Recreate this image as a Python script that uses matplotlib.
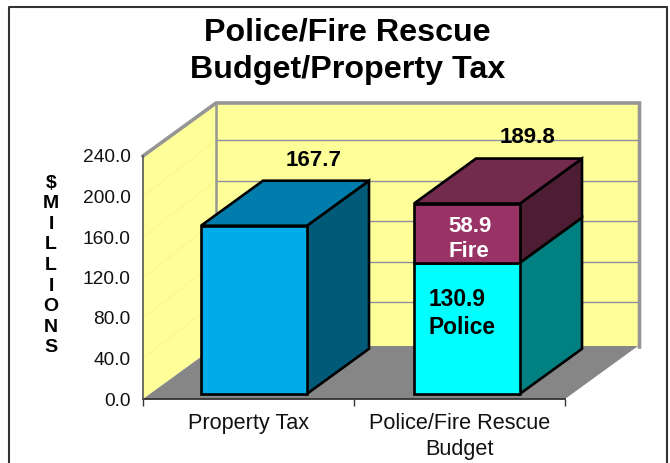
import matplotlib
matplotlib.use('Agg')
import matplotlib.pyplot as plt
from matplotlib.patches import Polygon
from matplotlib.lines import Line2D

plt.rcParams['font.family'] = ['Liberation Sans', 'DejaVu Sans']

# budget figures in $ millions
categories = ['Property Tax', 'Police/Fire Rescue\nBudget']
property_tax = 167.7
police = 130.9
fire = 58.9
total = 189.8
y_ticks = [0, 40, 80, 120, 160, 200, 240]

W, H = 670, 463
fig = plt.figure(figsize=(W / 100, H / 100), dpi=100)

# front plane of the 3d box, everything else is offset from it
ax = fig.add_axes([143 / W, 1 - 399 / H, 422 / W, 243 / H])
ax.set_xlim(0, 2)
ax.set_ylim(0, 240)
ax.patch.set_visible(False)
for s in ['top', 'right']:
    ax.spines[s].set_visible(False)
ax.spines['left'].set_color('#555555')
ax.spines['left'].set_linewidth(1.2)
ax.spines['bottom'].set_color('#333333')
ax.spines['bottom'].set_linewidth(1.3)
ax.spines['left'].set_zorder(6)
ax.spines['bottom'].set_zorder(2)

x_px = 2 / 422     # one pixel in x data units
y_px = 240 / 243   # one pixel in y data units
wall_dx = 73 * x_px
wall_dy = 53 * y_px
grid_nudge = 3.5 * y_px
bar_dx = 62 * x_px
bar_dy = 45 * y_px
bar_width = 106 * x_px
bar_base = 5.2 * y_px
bar_shift = [5.5 * x_px, 7.5 * x_px]
bar_scale = 0.99   # bars sit a little behind the front plane


def poly(pts, **kw):
    p = Polygon(pts, closed=True, clip_on=False, **kw)
    ax.add_patch(p)
    return p


# walls and floor
wall_yellow = '#FFFF99'
wall_grey = '#969696'
poly([(0, 0), (wall_dx, wall_dy), (wall_dx, 240 + wall_dy), (0, 240)],
     facecolor=wall_yellow, edgecolor='none', zorder=1)
poly([(wall_dx, wall_dy), (2 + wall_dx, wall_dy), (2 + wall_dx, 240 + wall_dy), (wall_dx, 240 + wall_dy)],
     facecolor=wall_yellow, edgecolor='none', zorder=1)
poly([(0, 0), (wall_dx, wall_dy), (2 + wall_dx, wall_dy), (2, 0)],
     facecolor='#868686', edgecolor='none', zorder=1.5)

for t in y_ticks[1:-1]:
    gy = t + wall_dy + grid_nudge
    ax.plot([wall_dx, 2 + wall_dx], [gy, gy], color='#8E8E9E', lw=1, zorder=1.2, clip_on=False)
    ax.plot([0, wall_dx], [t, gy], color='#F8F890', lw=0.8, zorder=1.2, clip_on=False)

# grey outline along the back wall
ax.plot([0, wall_dx, 2 + wall_dx + 1.5 * x_px, 2 + wall_dx + 1.5 * x_px],
        [240, 240 + wall_dy, 240 + wall_dy, wall_dy - 1 * y_px],
        color=wall_grey, lw=2.6, zorder=1.3, clip_on=False, solid_joinstyle='miter')
ax.plot([wall_dx, wall_dx], [wall_dy, 240 + wall_dy], color=wall_grey, lw=1.8, zorder=1.3, clip_on=False)


def box(cat, low, high, front, top, side, draw_top=True):
    x0 = cat + 0.5 - bar_width / 2 + bar_shift[cat]
    x1 = x0 + bar_width
    y0 = bar_base + low * bar_scale
    y1 = bar_base + high * bar_scale
    style = dict(edgecolor='black', linewidth=1.9, joinstyle='miter', zorder=3)
    poly([(x1, y0), (x1 + bar_dx, y0 + bar_dy), (x1 + bar_dx, y1 + bar_dy), (x1, y1)], facecolor=side, **style)
    poly([(x0, y0), (x1, y0), (x1, y1), (x0, y1)], facecolor=front, **style)
    if draw_top:
        poly([(x0, y1), (x1, y1), (x1 + bar_dx, y1 + bar_dy), (x0 + bar_dx, y1 + bar_dy)], facecolor=top, **style)
    return x0


x_tax = box(0, 0, property_tax, '#00ABE9', '#007DAC', '#005A78')
x_pol = box(1, 0, police, '#00FFFF', '#00B0B0', '#008080', draw_top=False)
box(1, police, police + fire, '#993366', '#732A4D', '#4D1E33')

# value labels
bold = dict(fontweight='bold', zorder=5, clip_on=False)
ax.text(x_tax + bar_dx + 50.5 * x_px, bar_base + property_tax + bar_dy + 8, f'{property_tax:.1f}',
        ha='center', va='bottom', fontsize=16, color='black', **bold)
ax.text(x_pol + bar_dx + 51.5 * x_px, bar_base + total + bar_dy + 9, f'{total:.1f}',
        ha='center', va='bottom', fontsize=16, color='black', **bold)
ax.text(x_pol + 15 * x_px, bar_base + police * 0.80, f'{police:.1f}\nPolice',
        ha='left', va='top', fontsize=16.4, color='black', linespacing=1.28, **bold)
ax.text(x_pol + 34.5 * x_px, bar_base + police + fire * 0.37, f'{fire:.1f}\nFire',
        ha='left', va='center', fontsize=16, color='white', linespacing=1.25, **bold)

# axis ticks and labels
ax.set_yticks(y_ticks)
ax.set_yticklabels([f'{t:.1f}' for t in y_ticks], fontsize=13.8, color='#111111')
ax.tick_params(axis='y', length=0, pad=9)
ax.set_xticks([0, 1, 2])
ax.set_xticklabels([])
ax.tick_params(axis='x', length=5, width=1, color='#333333', direction='out')
ax.set_xticks([0.5, 1.5], minor=True)
ax.set_xticklabels(categories, minor=True, fontsize=15.6, color='#111111', linespacing=1.3)
ax.tick_params(axis='x', which='minor', length=0, pad=10)

fig.text(51 / W, 1 - 265.5 / H, '\n'.join('$MILLIONS').replace('$', r'\$'), ha='center', va='center',
         fontsize=14, fontweight='bold', linespacing=1.27)

fig.text(347.5 / W, 1 - 51.5 / H, 'Police/Fire Rescue\nBudget/Property Tax', ha='center', va='center',
         fontsize=23.2, fontweight='bold', linespacing=1.34)

# chart frame, runs off the bottom edge
frame_x = [8.5 / W, 8.5 / W, 667 / W, 667 / W]
frame_y = [-0.1, 1 - 6.5 / H, 1 - 6.5 / H, -0.1]
fig.add_artist(Line2D(frame_x, frame_y, color='#333333', lw=1.5, transform=fig.transFigure))

fig.savefig('out.png', dpi=100)
